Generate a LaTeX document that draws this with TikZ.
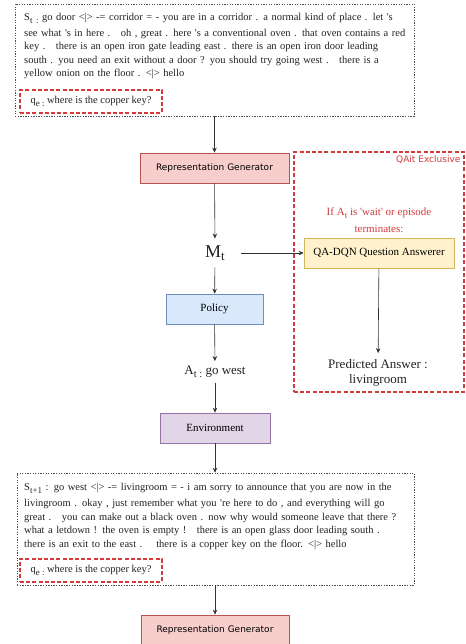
\documentclass[tikz,border=0pt]{standalone}
\usepackage{fontspec}
\setmainfont{Liberation Serif}
\setsansfont{DejaVu Sans}
\usetikzlibrary{arrows.meta,positioning}
\definecolor{RepFill}{RGB}{248,206,204}
\definecolor{RepLine}{RGB}{184,84,80}
\definecolor{PolFill}{RGB}{218,232,252}
\definecolor{PolLine}{RGB}{108,142,191}
\definecolor{QAFill}{RGB}{255,242,204}
\definecolor{QALine}{RGB}{214,182,86}
\definecolor{EnvFill}{RGB}{225,213,231}
\definecolor{EnvLine}{RGB}{150,115,166}
\definecolor{QaitRed}{RGB}{212,58,58}
\definecolor{TextGray}{RGB}{34,34,34}
% lowered subscript, size given in pt
\newcommand\lowsub[2]{\raisebox{-2.6pt}{\fontsize{#1}{#1}\selectfont #2}}
\newcommand\sq{\textquotesingle}

\tikzset{
	block/.style={draw, line width=0.7pt, minimum height=30pt, inner sep=0pt, font=\fontsize{11}{13}\selectfont},
	flow/.style={-{Stealth[length=5pt,width=4.5pt]}, line width=0.6pt, draw=black!80},
	statebox/.style={draw=black!70, line width=0.6pt, dash pattern=on 1.3pt off 1.3pt, inner sep=0pt},
	querybox/.style={draw=QaitRed, line width=1.2pt, dash pattern=on 4pt off 2.2pt, minimum width=142pt, minimum height=23pt, inner sep=0pt, font=\fontsize{10.5}{13}\selectfont, text=TextGray},
	statetext/.style={anchor=base west, inner sep=0pt, text width=398pt, align=left, font=\fontsize{10.5}{13.5}\selectfont, text=TextGray}
}

\begin{document}
\begin{tikzpicture}[x=1pt, y=-1pt]
	\useasboundingbox (0,0) rectangle (465,644);
	\clip (0,0) rectangle (465,644);

	% observation at time t
	\node[statebox, minimum width=399pt, minimum height=112pt] (state) at (214.5,60) {};
	\node[statetext] (stext) at (24,20.5) {S\lowsub{9}{t :} go door <|> -= corridor = - you are in a corridor . a normal kind of place . let \sq s\\[2.5pt]
		see what \sq s in here .\ \ \ oh , great . here \sq s a conventional oven . that oven contains a red\\
		key .\ \ \ there is an open iron gate leading east . there is an open iron door leading\\
		south . you need an exit without a door ? you should try going west .\ \ \ there is a\\
		yellow onion on the floor . <|> hello};
	\node[querybox] (query) at (91,101.5) {q\lowsub{9}{e :} where is the copper key?};

	\node[block, fill=RepFill, draw=RepLine, minimum width=149pt, font=\sffamily\fontsize{9}{11}\selectfont] (rg) at (214.5,168) {Representation Generator};
	\node[inner sep=0pt, inner xsep=16pt, inner ysep=7pt, font=\fontsize{18}{20}\selectfont, text=TextGray] (mt) at (215,253) {M\lowsub{13}{t}};
	\node[block, fill=PolFill, draw=PolLine, minimum width=97pt] (policy) at (214.5,309) {Policy};
	\node[inner sep=5pt, font=\fontsize{13}{15}\selectfont, text=TextGray] (at) at (215,372) {A\lowsub{10.5}{t :} go west};
	\node[block, fill=EnvFill, draw=EnvLine, minimum width=110pt] (env) at (215,428) {Environment};

	% QAit exclusive part
	\node[draw=QaitRed, line width=1.2pt, dash pattern=on 4pt off 2.2pt, minimum width=170pt, minimum height=240pt, inner sep=0pt] (qait) at (379,272) {};
	\node[anchor=north east, inner xsep=4pt, inner ysep=4.5pt, text=QaitRed, font=\sffamily\fontsize{9}{11}\selectfont] (qaitlabel) at (qait.north east) {QAit Exclusive};
	\node[align=center, text=QaitRed, font=\fontsize{11}{17}\selectfont] (cond) at (379,220.5) {If A\lowsub{9}{t} is \sq wait\sq{} or episode\\ terminates:};
	\node[block, fill=QAFill, draw=QALine, minimum width=150pt] (qa) at (379,253) {QA-DQN Question Answerer};
	\node[align=center, inner sep=6pt, font=\fontsize{13}{15.5}\selectfont, text=TextGray] (answer) at (378,373) {Predicted Answer :\\ livingroom};

	% observation at time t+1
	\node[statebox, minimum width=397pt, minimum height=112pt] (state2) at (215.5,529) {};
	\node[statetext] (stext2) at (24,490.5) {S\lowsub{9}{t+1} : go west <|> -= livingroom = - i am sorry to announce that you are now in the\\[2.5pt]
		livingroom . okay , just remember what you \sq re here to do , and everything will go\\
		great .\ \ \ you can make out a black oven . now why would someone leave that there ?\\
		what a letdown ! the oven is empty !\ \ \ there is an open glass door leading south .\\
		there is an exit to the east .\ \ \ \ there is a copper key on the floor. <|> hello};
	\node[querybox] (query2) at (91,570.5) {q\lowsub{9}{e :} where is the copper key?};

	\node[block, fill=RepFill, draw=RepLine, minimum width=148pt, font=\sffamily\fontsize{9}{11}\selectfont] (rg2) at (215,630) {Representation Generator};

	% connectors
	\draw[flow] (state.south) -- (rg.north);
	\draw[flow] (rg) -- (mt);
	\draw[flow] (mt) -- (policy);
	\draw[flow] (policy) -- (at);
	\draw[flow] (at) -- (env);
	\draw[flow] (env.south) -- (env.south |- state2.north);
	\draw[flow] (state2.south -| rg2.north) -- (rg2.north);
	\draw[flow] (mt.east) -- (qa.west);
	\draw[flow] (qa) -- (answer);
\end{tikzpicture}
\end{document}
